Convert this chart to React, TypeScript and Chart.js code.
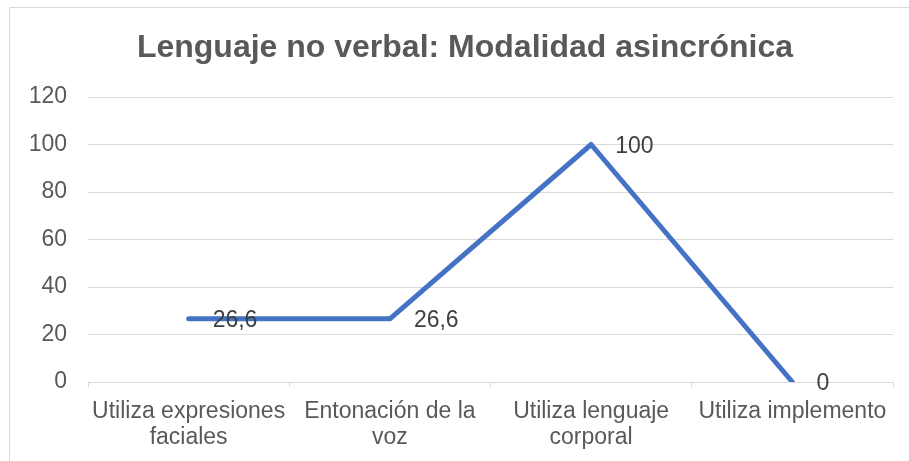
import React, { useEffect, useRef } from "react";
import { Chart, registerables } from "chart.js";

Chart.register(...registerables);

const titleText = "Lenguaje no verbal: Modalidad asincrónica";
const categories: string[][] = [
  ["Utiliza expresiones", "faciales"],
  ["Entonación de la", "voz"],
  ["Utiliza lenguaje", "corporal"],
  ["Utiliza implemento"],
];
const values: number[] = [26.6, 26.6, 100, 0];
const valueLabels: string[] = ["26,6", "26,6", "100", "0"];
const yTicks = { min: 0, max: 120, step: 20 };

const FONT = "'Liberation Sans', Arial, sans-serif";

const framePlugin = {
  id: "frame",
  beforeDraw(chart: any) {
    const ctx = chart.ctx;
    ctx.save();
    ctx.fillStyle = "#ffffff";
    ctx.fillRect(0, 0, chart.width, chart.height);
    ctx.strokeStyle = "#d9d9d9";
    ctx.lineWidth = 1;
    ctx.beginPath();
    ctx.moveTo(9.5, chart.height + 2);
    ctx.lineTo(9.5, 7.5);
    ctx.lineTo(chart.width + 2, 7.5);
    ctx.stroke();
    ctx.fillStyle = "#595959";
    ctx.font = `bold 32px ${FONT}`;
    ctx.textAlign = "center";
    ctx.textBaseline = "alphabetic";
    ctx.fillText(titleText, 465, 57);
    ctx.restore();
  },
};

const labelPlugin = {
  id: "valueLabels",
  afterDatasetsDraw(chart: any) {
    const ctx = chart.ctx;
    const meta = chart.getDatasetMeta(0);
    ctx.save();
    ctx.fillStyle = "#404040";
    ctx.font = `23px ${FONT}`;
    ctx.textAlign = "left";
    ctx.textBaseline = "middle";
    meta.data.forEach((pt: any, i: number) => {
      ctx.fillText(valueLabels[i], pt.x + 24, pt.y + 2);
    });
    ctx.restore();
  },
};

export default function App() {
  const ref = useRef<HTMLCanvasElement>(null);
  useEffect(() => {
    if (!ref.current) return;
    const chart = new Chart(ref.current, {
      type: "line",
      data: {
        labels: categories,
        datasets: [
          {
            data: values,
            borderColor: "#4472C4",
            borderWidth: 5,
            borderCapStyle: "round",
            borderJoinStyle: "round",
            pointRadius: 0,
            pointHoverRadius: 0,
            tension: 0,
            fill: false,
          },
        ],
      },
      options: {
        animation: false,
        responsive: false,
        maintainAspectRatio: false,
        layout: { padding: { top: 97, right: 16, bottom: 0, left: 0 } },
        plugins: {
          legend: { display: false },
          title: { display: false },
          tooltip: { enabled: false },
        },
        scales: {
          x: {
            offset: true,
            grid: {
              offset: true,
              display: true,
              drawOnChartArea: false,
              drawTicks: true,
              tickLength: 5,
              color: "#d9d9d9",
            },
            border: { display: true, color: "#d9d9d9" },
            ticks: {
              color: "#595959",
              font: { family: FONT, size: 23, lineHeight: 1.15 },
              padding: 11,
              maxRotation: 0,
              autoSkip: false,
            },
            afterFit: (s: any) => {
              s.height = 79;
            },
          },
          y: {
            min: yTicks.min,
            max: yTicks.max,
            grid: { color: "#d9d9d9", drawTicks: false },
            border: { display: false },
            ticks: {
              stepSize: yTicks.step,
              color: "#595959",
              font: { family: FONT, size: 23 },
              padding: 21,
            },
            afterFit: (s: any) => {
              s.width = 88;
            },
          },
        },
      },
      plugins: [framePlugin, labelPlugin],
    });
    return () => chart.destroy();
  }, []);
  return (
    <div style={{ position: "absolute", left: 0, top: 0, width: 909, height: 461 }}>
      <canvas ref={ref} width={909} height={461} style={{ display: "block" }} />
    </div>
  );
}
